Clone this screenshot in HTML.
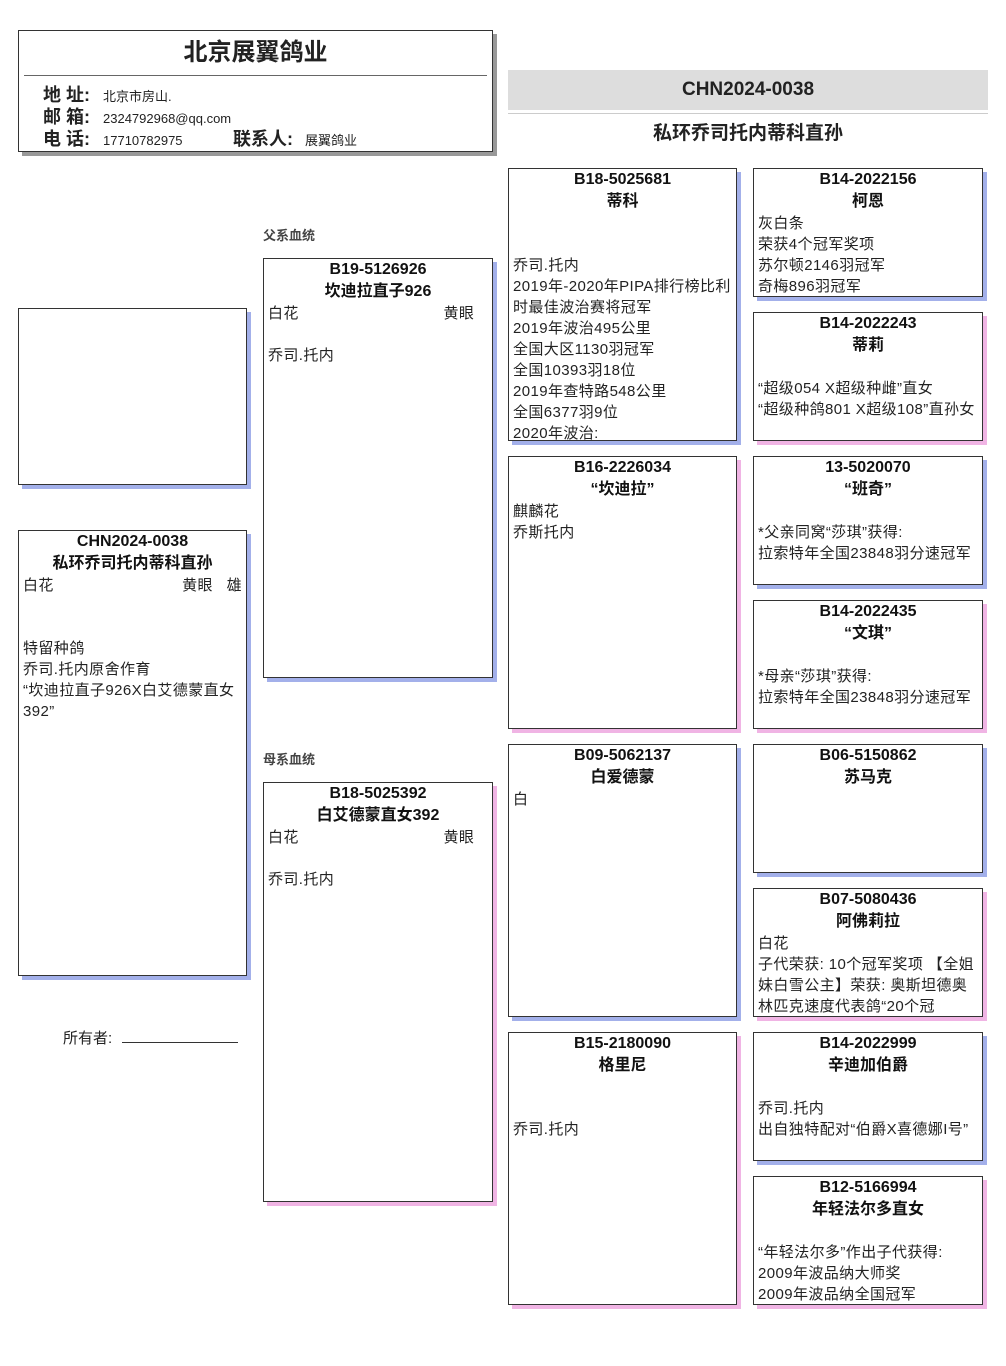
<!DOCTYPE html>
<html><head><meta charset="utf-8"><style>
*{margin:0;padding:0;box-sizing:border-box}
body{width:1006px;height:1366px;background:#fff;position:relative;font-family:"Liberation Sans","Noto Sans CJK SC",sans-serif;color:#222;overflow:hidden}
.b{position:absolute;border:1px solid #333;background:#fff;font-size:15px;letter-spacing:0.4px;line-height:21px;padding:0 4px;overflow:hidden}
.m{box-shadow:4px 4px 0 #a3b0ea}
.f{box-shadow:4px 4px 0 #f0b4e4}
.t{text-align:center;font-weight:bold;font-size:16px;letter-spacing:0;line-height:22px;color:#111}
.r{display:flex;justify-content:space-between}
.lab{position:absolute;font-size:13px;font-weight:bold;color:#444}
</style></head><body>
<div style="position:absolute;left:18px;top:30px;width:475px;height:122px;border:1px solid #333;box-shadow:4px 4px 0 #999;background:#fff">
 <div style="text-align:center;font-size:24px;font-weight:bold;line-height:40px;margin-top:2px">北京展翼鸽业</div>
 <div style="margin:2px 5px 0;border-top:1px solid #666"></div>
 <div style="position:absolute;left:24px;top:54px;font-size:13px;line-height:21px">
  <div><b style="font-size:18px;display:inline-block;width:60px">地 址:</b>北京市房山.</div>
  <div><b style="font-size:18px;display:inline-block;width:60px">邮 箱:</b>2324792968@qq.com</div>
  <div><b style="font-size:18px;display:inline-block;width:60px">电 话:</b><span style="display:inline-block;width:130px">17710782975</span><b style="font-size:18px;display:inline-block;width:72px">联系人:</b>展翼鸽业</div>
 </div>
</div>
<div style="position:absolute;left:508px;top:70px;width:480px;height:40px;background:#ddd;text-align:center;font-weight:bold;font-size:19px;line-height:40px">CHN2024-0038</div>
<div style="position:absolute;left:508px;top:113px;width:480px;border-top:1px solid #ccc"></div>
<div style="position:absolute;left:508px;top:120px;width:480px;text-align:center;font-weight:bold;font-size:19px;line-height:28px">私环乔司托内蒂科直孙</div>

<div class="b m" style="left:18px;top:308px;width:229px;height:177px"></div>
<div class="b m" style="left:18px;top:530px;width:229px;height:446px"><div class="t">CHN2024-0038<br>私环乔司托内蒂科直孙</div><div class="r"><span>白花</span><span>黄眼 &nbsp; 雄</span></div><br><br>特留种鸽<br>乔司.托内原舍作育<br>“坎迪拉直子926X白艾德蒙直女392”</div>
<div style="position:absolute;left:63px;top:1027px;font-size:15px">所有者: <span style="display:inline-block;width:116px;border-bottom:1px solid #333;height:14px;margin-left:6px"></span></div>

<div class="lab" style="left:263px;top:225px">父系血统</div>
<div class="b m" style="left:263px;top:258px;width:230px;height:420px"><div class="t">B19-5126926<br>坎迪拉直子926</div><div class="r"><span>白花</span><span>黄眼&nbsp;&nbsp;&nbsp;</span></div><br>乔司.托内</div>
<div class="lab" style="left:263px;top:749px">母系血统</div>
<div class="b f" style="left:263px;top:782px;width:230px;height:420px"><div class="t">B18-5025392<br>白艾德蒙直女392</div><div class="r"><span>白花</span><span>黄眼&nbsp;&nbsp;&nbsp;</span></div><br>乔司.托内</div>

<div class="b m" style="left:508px;top:168px;width:229px;height:273px"><div class="t">B18-5025681<br>蒂科</div><br><br>乔司.托内<br>2019年-2020年PIPA排行榜比利时最佳波治赛将冠军<br>2019年波治495公里<br>全国大区1130羽冠军<br>全国10393羽18位<br>2019年查特路548公里<br>全国6377羽9位<br>2020年波治:</div>
<div class="b f" style="left:508px;top:456px;width:229px;height:273px"><div class="t">B16-2226034<br>“坎迪拉”</div>麒麟花<br>乔斯托内</div>
<div class="b m" style="left:508px;top:744px;width:229px;height:273px"><div class="t">B09-5062137<br>白爱德蒙</div>白</div>
<div class="b f" style="left:508px;top:1032px;width:229px;height:273px"><div class="t">B15-2180090<br>格里尼</div><br><br>乔司.托内</div>

<div class="b m" style="left:753px;top:168px;width:230px;height:129px"><div class="t">B14-2022156<br>柯恩</div>灰白条<br>荣获4个冠军奖项<br>苏尔顿2146羽冠军<br>奇梅896羽冠军</div>
<div class="b f" style="left:753px;top:312px;width:230px;height:129px"><div class="t">B14-2022243<br>蒂莉</div><br>“超级054 X超级种雌”直女<br>“超级种鸽801 X超级108”直孙女</div>
<div class="b m" style="left:753px;top:456px;width:230px;height:129px"><div class="t">13-5020070<br>“班奇”</div><br>*父亲同窝“莎琪”获得:<br>拉索特年全国23848羽分速冠军</div>
<div class="b f" style="left:753px;top:600px;width:230px;height:129px"><div class="t">B14-2022435<br>“文琪”</div><br>*母亲“莎琪”获得:<br>拉索特年全国23848羽分速冠军</div>
<div class="b m" style="left:753px;top:744px;width:230px;height:129px"><div class="t">B06-5150862<br>苏马克</div></div>
<div class="b f" style="left:753px;top:888px;width:230px;height:129px"><div class="t">B07-5080436<br>阿佛莉拉</div>白花<br>子代荣获: 10个冠军奖项 【全姐妹白雪公主】荣获: 奥斯坦德奥林匹克速度代表鸽“20个冠</div>
<div class="b m" style="left:753px;top:1032px;width:230px;height:129px"><div class="t">B14-2022999<br>辛迪加伯爵</div><br>乔司.托内<br>出自独特配对“伯爵X喜德娜I号”</div>
<div class="b f" style="left:753px;top:1176px;width:230px;height:129px"><div class="t">B12-5166994<br>年轻法尔多直女</div><br>“年轻法尔多”作出子代获得:<br>2009年波品纳大师奖<br>2009年波品纳全国冠军</div>
</body></html>
